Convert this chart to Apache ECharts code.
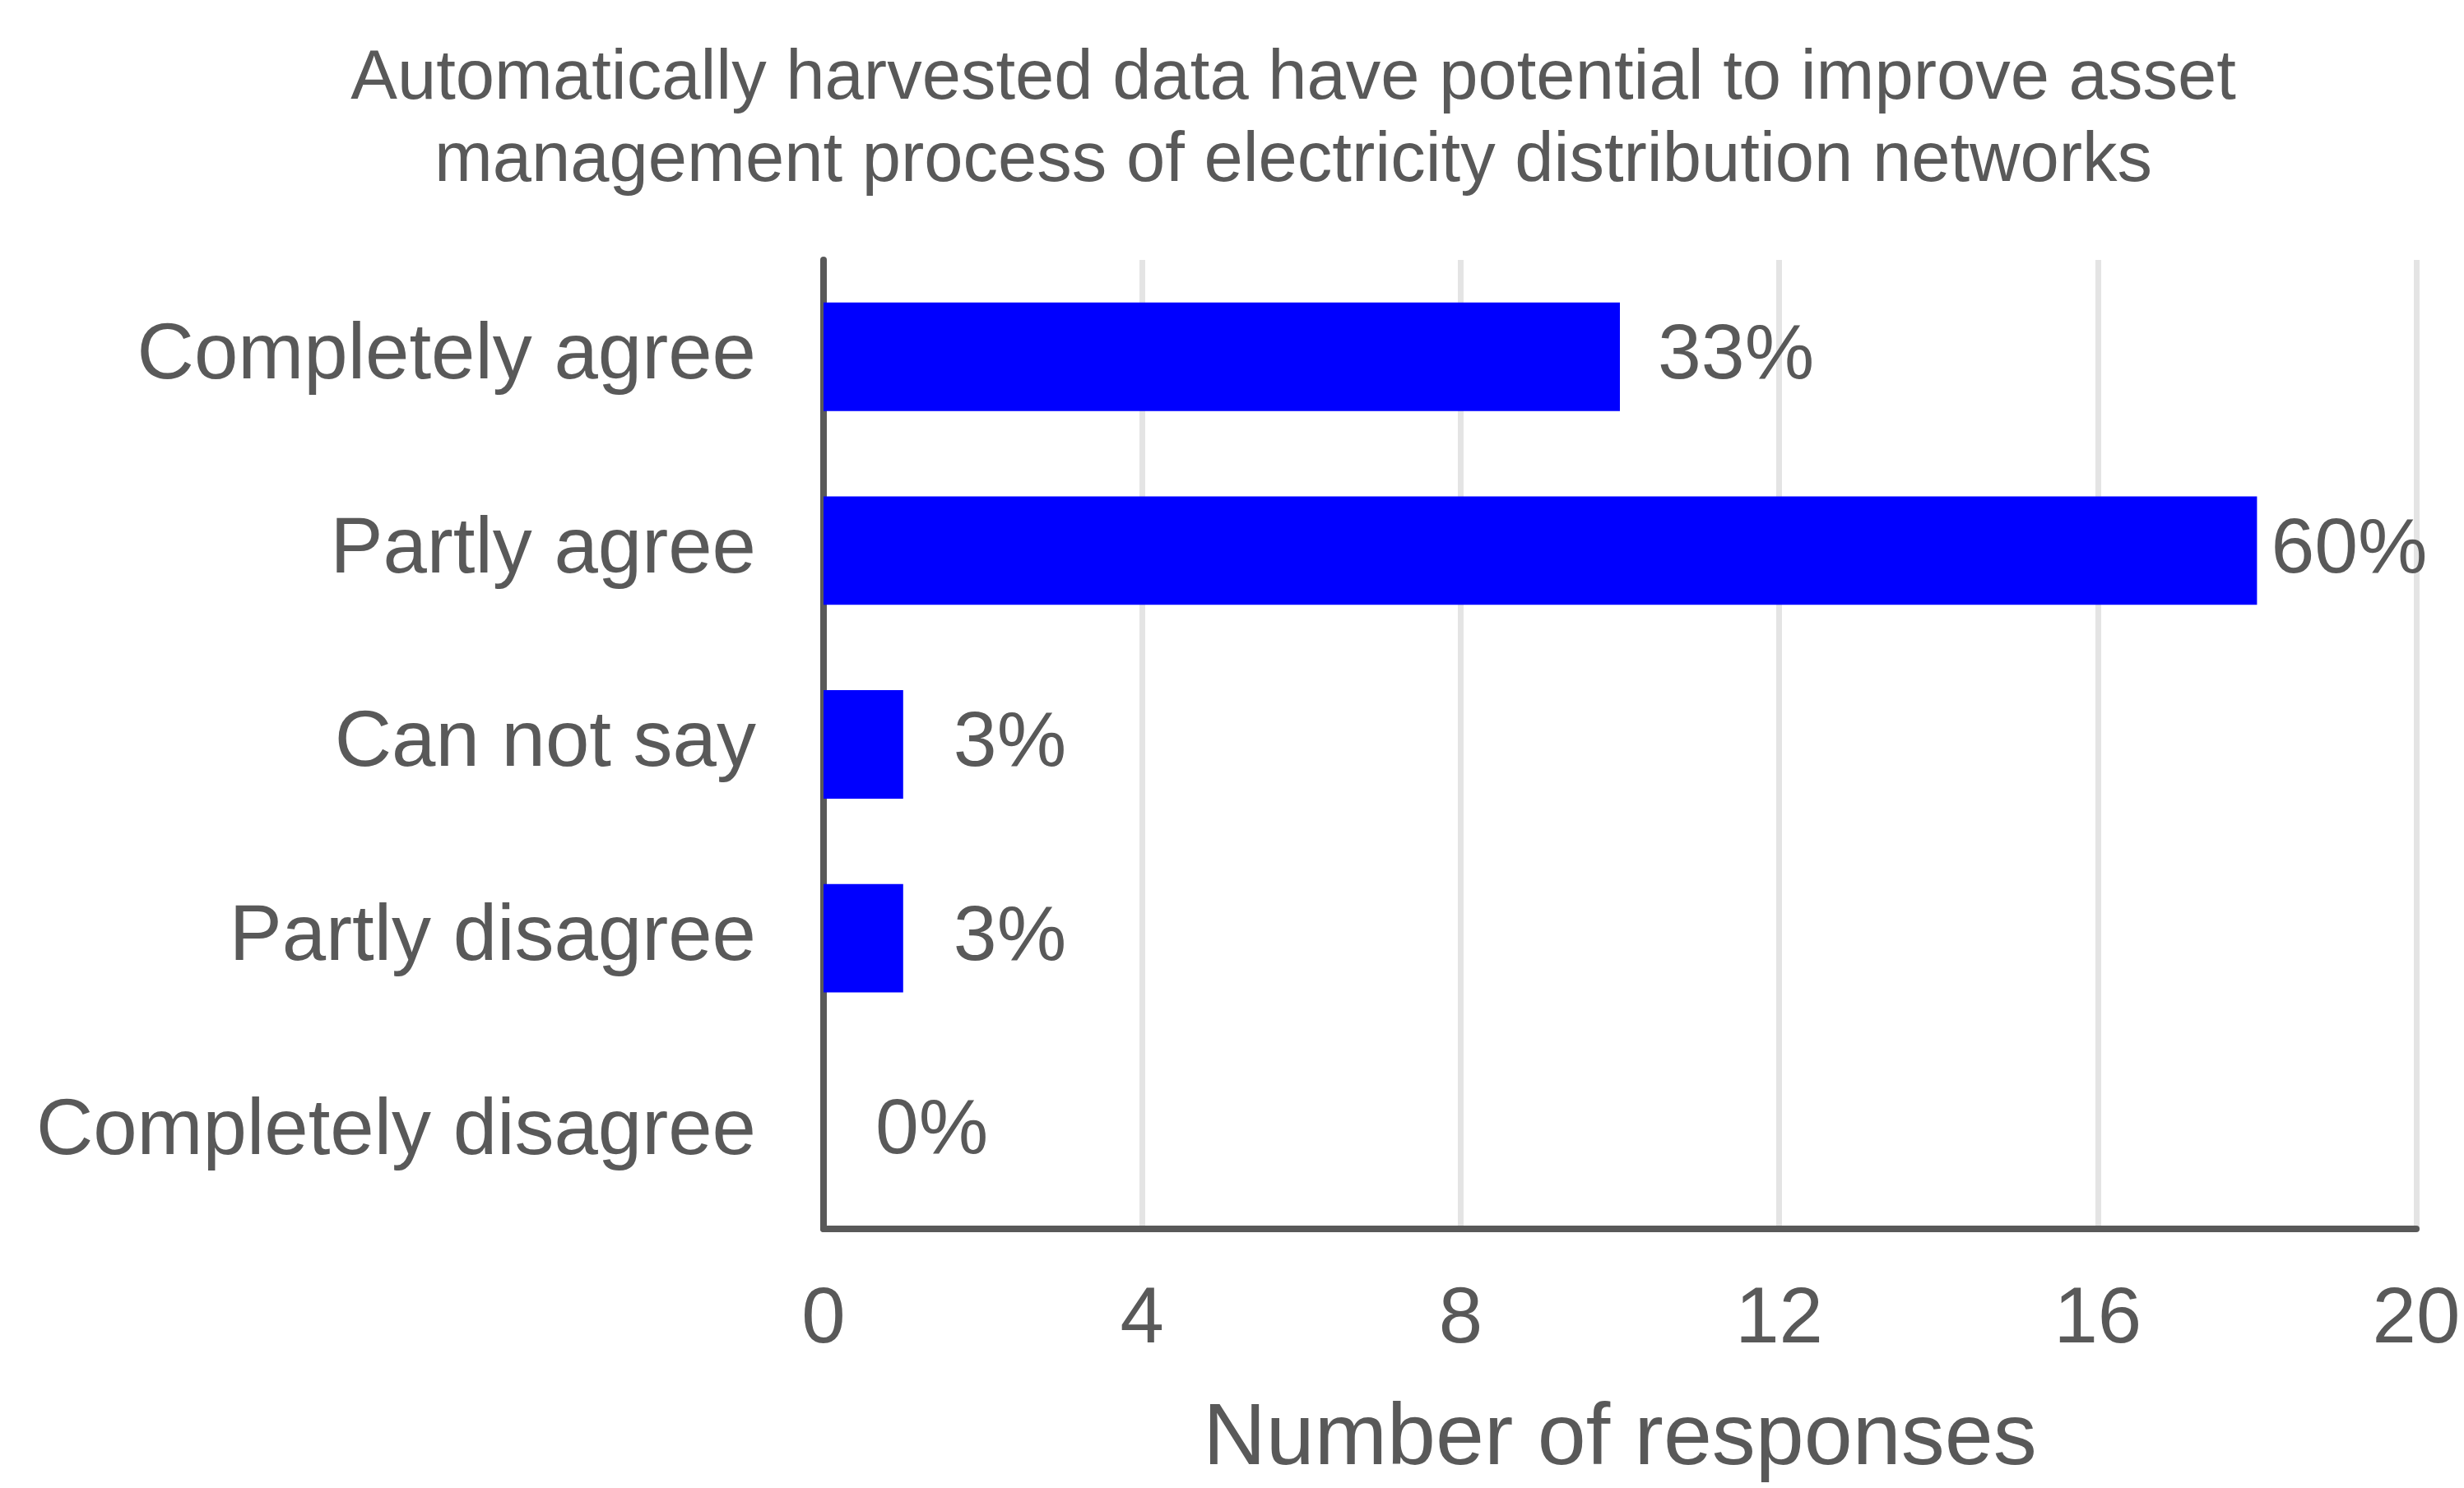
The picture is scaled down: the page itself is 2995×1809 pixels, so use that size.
<!DOCTYPE html>
<html>
<head>
<meta charset="utf-8">
<title>Automatically harvested data</title>
<script src="https://cdn.jsdelivr.net/npm/echarts@6/dist/echarts.min.js"></script>
<style>
  html, body { margin: 0; padding: 0; background: #fff; }
  #chart { width: 2995px; height: 1809px; }
</style>
</head>
<body>
<div id="chart"></div>
<script>
// survey answers, top to bottom
const categories = ['Completely agree', 'Partly agree', 'Can not say', 'Partly disagree', 'Completely disagree'];
const responses = [10, 18, 1, 1, 0];
const shares = [33, 60, 3, 3, 0];
const xTicks = [0, 4, 8, 12, 16, 20];

const textColor = '#595959';
const font = '"Liberation Sans", Arial, sans-serif';
// label offsets from bar end, as placed in the original
const labelGap = [46, 17, 61, 61, 63];

const chart = echarts.init(document.getElementById('chart'));
chart.setOption({
  animation: false,
  backgroundColor: '#ffffff',
  textStyle: { fontFamily: font },
  title: {
    text: 'Automatically harvested data have potential to improve asset\nmanagement process of electricity distribution networks',
    left: 1567,
    top: 42,
    textAlign: 'center',
    textStyle: {
      fontFamily: font,
      fontSize: 85,
      fontWeight: 'normal',
      color: textColor,
      lineHeight: 100
    }
  },
  grid: {
    left: 1001,
    right: 58,
    top: 316,
    bottom: 310,
    containLabel: false
  },
  xAxis: {
    type: 'value',
    min: xTicks[0],
    max: xTicks[xTicks.length - 1],
    interval: 4,
    name: 'Number of responses',
    nameLocation: 'middle',
    nameGap: 204,
    nameTextStyle: { fontFamily: font, fontSize: 106, color: textColor },
    axisLine: { show: true, lineStyle: { color: textColor, width: 8 } },
    axisTick: { show: false },
    axisLabel: { fontFamily: font, fontSize: 96, color: textColor, margin: 64 },
    splitLine: { show: true, lineStyle: { color: '#e4e4e4', width: 7 } }
  },
  yAxis: {
    type: 'category',
    data: categories,
    inverse: true,
    axisLine: { show: true, lineStyle: { color: textColor, width: 8 } },
    axisTick: { show: false },
    axisLabel: { fontFamily: font, fontSize: 96, color: textColor, margin: 82 },
    splitLine: { show: false }
  },
  series: [{
    type: 'bar',
    data: responses.map((v, i) => ({
      value: v,
      label: { distance: labelGap[i] }
    })),
    barCategoryGap: '44%',
    itemStyle: { color: '#0000ff' },
    label: {
      show: true,
      position: 'right',
      fontFamily: font,
      fontSize: 95,
      color: textColor,
      formatter: p => shares[p.dataIndex] + '%'
    }
  }]
});
</script>
</body>
</html>
